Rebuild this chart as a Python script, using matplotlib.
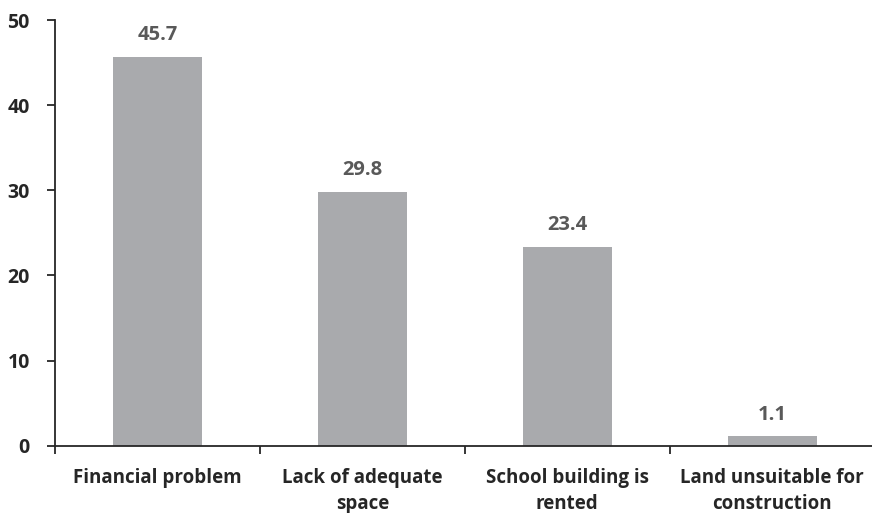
import numpy as np
import matplotlib.pyplot as plt

# data
categories = ['Financial problem', 'Lack of adequate\nspace',
              'School building is\nrented', 'Land unsuitable for\nconstruction']
values = [45.7, 29.8, 23.4, 1.1]
y_ticks = [0, 10, 20, 30, 40, 50]

plt.rcParams['font.family'] = ['Open Sans', 'DejaVu Sans']

fig = plt.figure(figsize=(8.72, 5.13), dpi=100)
ax = fig.add_axes([0.063, 0.131, 0.94, 0.83])

x = np.arange(len(categories))
bars = ax.bar(x, values, width=0.435, color='#a9aaad', zorder=2)

# value labels above bars
for xi, v in zip(x, values):
    ax.text(xi, v + 1.4, f'{v:.1f}', ha='center', va='bottom',
            fontsize=14.5, fontweight='bold', color='#595959')

ax.set_xlim(-0.5, len(categories) - 0.5)
ax.set_ylim(0, 50)
ax.set_yticks(y_ticks)
ax.set_yticklabels([str(t) for t in y_ticks], fontsize=14, fontweight='bold', color='#262626')

ax.set_xticks(x)
ax.set_xticklabels(categories, fontsize=13.5, fontweight='bold', color='#262626',
                   linespacing=1.4)
ax.tick_params(axis='x', which='major', length=0, pad=16)
ax.set_xticks(np.arange(-0.5, len(categories), 1), minor=True)
ax.tick_params(axis='x', which='minor', length=6, width=1.3, color='#262626')
ax.tick_params(axis='y', length=6, width=1.3, color='#262626', pad=12)

for side in ['top', 'right']:
    ax.spines[side].set_visible(False)
for side in ['left', 'bottom']:
    ax.spines[side].set_linewidth(1.3)
    ax.spines[side].set_color('#262626')

fig.savefig('out.png', dpi=100)
